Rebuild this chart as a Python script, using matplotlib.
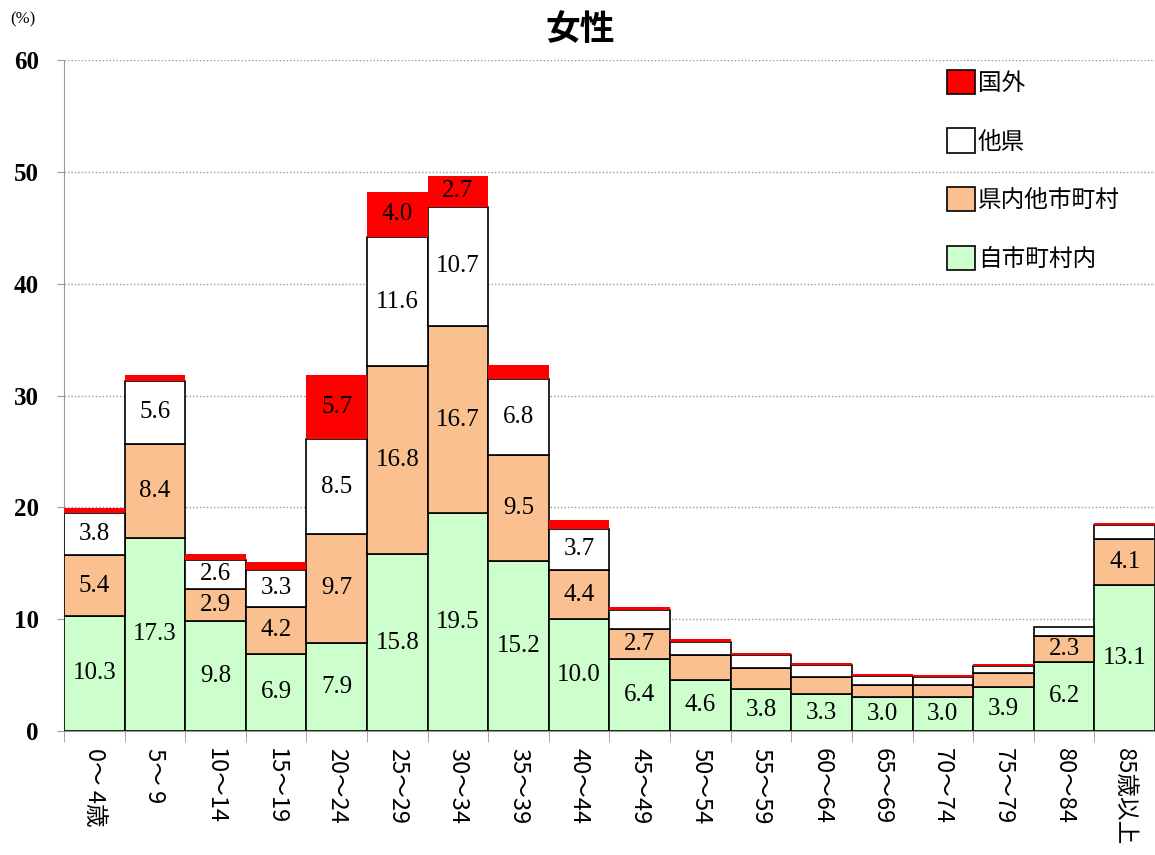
import numpy as np
import matplotlib.pyplot as plt
from matplotlib.patches import Patch

plt.rcParams['font.family'] = ['Noto Sans CJK JP', 'DejaVu Sans']

# age groups
ages = ['0～ 4歳', '5～ 9', '10～14', '15～19', '20～24', '25～29', '30～34',
        '35～39', '40～44', '45～49', '50～54', '55～59', '60～64', '65～69',
        '70～74', '75～79', '80～84', '85歳以上']

# stacked series, bottom to top (%)
same_city = [10.3, 17.3, 9.8, 6.9, 7.9, 15.8, 19.5, 15.2, 10.0, 6.4, 4.6, 3.8,
             3.3, 3.0, 3.0, 3.9, 6.2, 13.1]
other_city = [5.4, 8.4, 2.9, 4.2, 9.7, 16.8, 16.7, 9.5, 4.4, 2.7, 2.2, 1.8,
              1.5, 1.1, 1.1, 1.3, 2.3, 4.1]
other_pref = [3.8, 5.6, 2.6, 3.3, 8.5, 11.6, 10.7, 6.8, 3.7, 1.7, 1.2, 1.2,
              1.1, 0.8, 0.7, 0.6, 0.8, 1.2]
abroad = [0.4, 0.5, 0.5, 0.7, 5.7, 4.0, 2.7, 1.2, 0.8, 0.3, 0.25, 0.2,
          0.2, 0.2, 0.2, 0.2, 0.0, 0.2]

# name, values, fill, edge width
series = [
    ('自市町村内', same_city, '#ccffcc', 1.2),
    ('県内他市町村', other_city, '#fac090', 1.2),
    ('他県', other_pref, '#ffffff', 1.2),
    ('国外', abroad, '#ff0000', 0),
]

LABEL_MIN = 2.3

fig = plt.figure(figsize=(11.55, 8.55), dpi=100)
ax = fig.add_axes([0.0554, 0.145, 0.9446, 0.7848])

x = np.arange(len(ages))
bottom = np.zeros(len(ages))
for name, vals, col, lw in series:
    vals = np.array(vals)
    ax.bar(x, vals, width=1.0, bottom=bottom, color=col,
           edgecolor='black', linewidth=lw, label=name, zorder=3)
    for xi, b, v in zip(x, bottom, vals):
        if v >= LABEL_MIN:
            ax.text(xi, b + v / 2, f'{v:.1f}', ha='center', va='center',
                    fontsize=18, family='Liberation Serif', zorder=4)
    bottom += vals

ax.set_xlim(-0.5, len(ages) - 0.5)
ax.set_ylim(0, 60)
ax.set_yticks(range(0, 61, 10))
ax.set_yticklabels([str(v) for v in range(0, 61, 10)],
                   family='Liberation Serif', fontsize=18, fontweight='bold')
ax.yaxis.grid(True, linestyle=(0, (1, 1.5)), color='#999999', linewidth=1, zorder=0)

ax.set_xticks(x)
ax.set_xticklabels(ages, rotation=-90, fontsize=17, va='top', ha='center')
ax.set_xticks(np.arange(-0.5, len(ages)), minor=True)
ax.tick_params(axis='x', which='major', length=0, pad=12)
ax.tick_params(axis='x', which='minor', length=8, color='#999999', direction='out')
ax.tick_params(axis='y', length=5, color='#999999', pad=13)

for s in ['top', 'right']:
    ax.spines[s].set_visible(False)
ax.spines['left'].set_color('#999999')
ax.spines['bottom'].set_color('#999999')

fig.text(0.009, 0.977, '(%)', fontsize=12, family='Liberation Serif', va='center')
fig.text(0.502, 0.965, '女性', fontsize=25, fontweight='bold', ha='center', va='center')

legend_items = [Patch(facecolor=col, edgecolor='black', linewidth=1.2, label=name)
                for name, vals, col, lw in series][::-1]
ax.legend(handles=legend_items, loc='upper left',
          bbox_to_anchor=(0.79, 1.017), frameon=False, fontsize=17,
          handlelength=1.2, handleheight=1.2, handletextpad=0.1,
          labelspacing=1.42)

fig.savefig('out.png', dpi=100)
